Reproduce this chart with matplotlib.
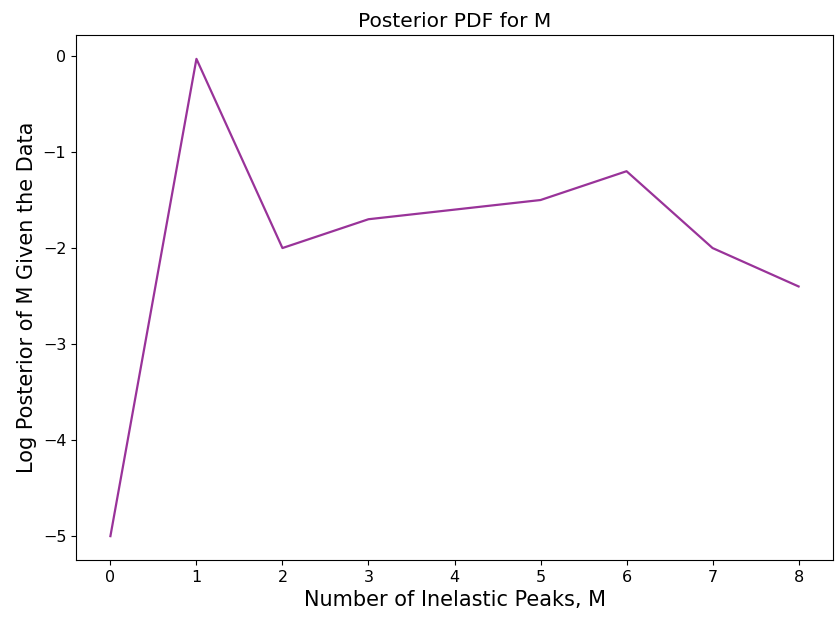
import matplotlib
matplotlib.use('Agg')
import matplotlib.pyplot as plt
import numpy as np

# number of inelastic peaks and log posterior for each model
n_peaks = [0, 1, 2, 3, 4, 5, 6, 7, 8]
log_post = [-5.0, -0.03, -2.0, -1.7, -1.6, -1.5, -1.2, -2.0, -2.4]

fig = plt.figure(figsize=(8.38, 6.18), dpi=100)
ax = fig.add_axes([76 / 838, 1 - 560 / 618, (833 - 76) / 838, (560 - 35) / 618])

ax.plot(n_peaks, log_post, color='purple', alpha=0.8, linewidth=1.6)
ax.set_title('Posterior PDF for M', fontsize=14.5)
ax.set_xlabel('Number of Inelastic Peaks, M', fontsize=15)
ax.set_ylabel('Log Posterior of M Given the Data', fontsize=15)
ax.tick_params(labelsize=11.5)
ax.set_yticks([0, -1, -2, -3, -4, -5])

plt.savefig('out.png', dpi=100)
